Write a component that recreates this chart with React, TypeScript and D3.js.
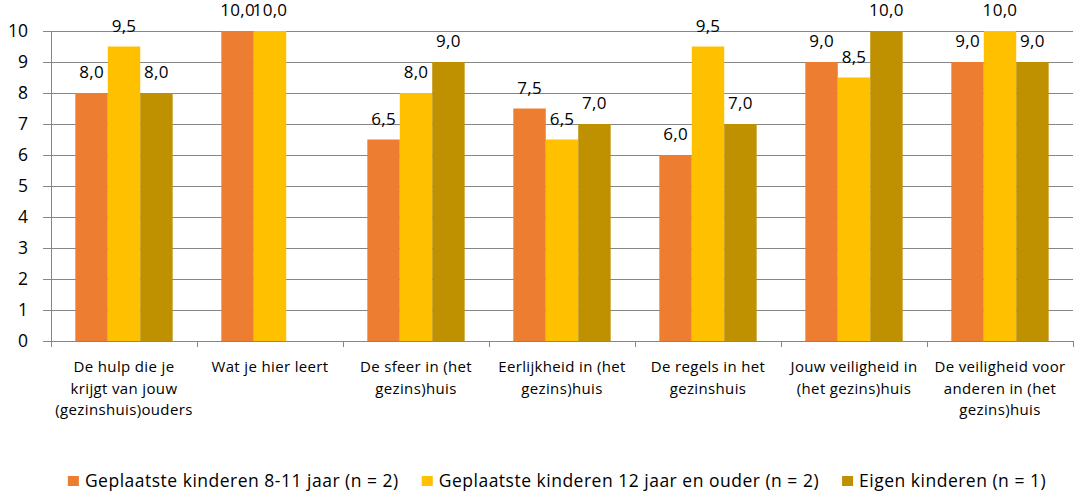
import React, { useEffect, useRef } from 'react';
import * as d3 from 'd3';

// data
const categories = [
  ['De hulp die je', 'krijgt van jouw', '(gezinshuis)ouders'],
  ['Wat je hier leert'],
  ['De sfeer in (het', 'gezins)huis'],
  ['Eerlijkheid in (het', 'gezins)huis'],
  ['De regels in het', 'gezinshuis'],
  ['Jouw veiligheid in', '(het gezins)huis'],
  ['De veiligheid voor', 'anderen in (het', 'gezins)huis'],
];
const seriesNames = [
  'Geplaatste kinderen 8-11 jaar (n = 2)',
  'Geplaatste kinderen 12 jaar en ouder (n = 2)',
  'Eigen kinderen (n = 1)',
];
const seriesColors = ['#ED7D31', '#FFC000', '#BF9000'];
const placed811 = [8.0, 10.0, 6.5, 7.5, 6.0, 9.0, 9.0];
const placed12 = [9.5, 10.0, 8.0, 6.5, 9.5, 8.5, 10.0];
const ownKids = [8.0, null, 9.0, 7.0, 7.0, 10.0, 9.0];
const yTicks = [0, 1, 2, 3, 4, 5, 6, 7, 8, 9, 10];

const FONT = '"Open Sans", sans-serif';
const GRID = '#868686';

export default function App() {
  const ref = useRef<SVGSVGElement>(null);

  useEffect(() => {
    draw();
  }, []);

  function draw() {
    const svg = d3.select(ref.current);
    svg.selectAll('*').remove();
    const width = 1074;
    const margin = { top: 31, right: 1, bottom: 150, left: 51 };
    const plotBottom = 341;

    const keys = categories.map((_, i) => String(i));
    const values = [placed811, placed12, ownKids];

    const xScale = d3.scaleBand().domain(keys).range([margin.left, width - margin.right]).paddingInner(0).paddingOuter(0);
    const inner = d3
      .scaleBand()
      .domain(seriesNames)
      .range([0, xScale.bandwidth()])
      .paddingInner(0)
      .paddingOuter(0.75);
    const yScale = d3.scaleLinear().domain([0, 10]).range([plotBottom, margin.top]);

    // gridlines
    svg
      .append('g')
      .selectAll('line')
      .data(yTicks)
      .enter()
      .append('line')
      .attr('x1', margin.left - 8)
      .attr('x2', width - margin.right)
      .attr('y1', (d) => Math.round(yScale(d)) + 0.5)
      .attr('y2', (d) => Math.round(yScale(d)) + 0.5)
      .attr('stroke', GRID)
      .attr('stroke-width', 1);

    // y axis line
    svg
      .append('line')
      .attr('x1', margin.left + 0.5)
      .attr('x2', margin.left + 0.5)
      .attr('y1', margin.top)
      .attr('y2', plotBottom)
      .attr('stroke', GRID);

    // y tick labels
    svg
      .append('g')
      .selectAll('text')
      .data(yTicks)
      .enter()
      .append('text')
      .attr('x', 28)
      .attr('y', (d) => yScale(d) + 6)
      .attr('text-anchor', 'end')
      .attr('font-family', FONT)
      .attr('font-size', 17.5)
      .attr('fill', '#000')
      .text((d) => d);

    // x ticks
    svg
      .append('g')
      .selectAll('line')
      .data(keys.concat(['end']))
      .enter()
      .append('line')
      .attr('x1', (d) => Math.round(d === 'end' ? width - margin.right : xScale(d)!) + 0.5)
      .attr('x2', (d) => Math.round(d === 'end' ? width - margin.right : xScale(d)!) + 0.5)
      .attr('y1', plotBottom)
      .attr('y2', plotBottom + 6)
      .attr('stroke', GRID);

    // bars
    const groups = svg
      .append('g')
      .selectAll('g')
      .data(seriesNames)
      .enter()
      .append('g')
      .attr('fill', (_, i) => seriesColors[i]);

    groups
      .selectAll('rect')
      .data((s, si) => values[si].map((v, ci) => ({ s, v, c: keys[ci] })))
      .enter()
      .filter((d) => d.v !== null)
      .append('rect')
      .attr('x', (d) => xScale(d.c)! + inner(d.s)!)
      .attr('y', (d) => yScale(d.v as number))
      .attr('width', inner.bandwidth())
      .attr('height', (d) => plotBottom - yScale(d.v as number));

    // data labels
    groups
      .selectAll('text')
      .data((s, si) => values[si].map((v, ci) => ({ s, v, c: keys[ci] })))
      .enter()
      .filter((d) => d.v !== null)
      .append('text')
      .attr('x', (d) => xScale(d.c)! + inner(d.s)! + inner.bandwidth() / 2)
      .attr('y', (d) => yScale(d.v as number) - 15)
      .attr('text-anchor', 'middle')
      .attr('font-family', FONT)
      .attr('font-size', 17)
      .attr('letter-spacing', 0.3)
      .attr('fill', '#000')
      .text((d) => (d.v as number).toFixed(1).replace('.', ','));

    // x axis line
    svg
      .append('line')
      .attr('x1', margin.left - 8)
      .attr('x2', width - margin.right)
      .attr('y1', plotBottom + 0.5)
      .attr('y2', plotBottom + 0.5)
      .attr('stroke', GRID);

    // category labels
    const catText = svg
      .append('g')
      .selectAll('text')
      .data(categories)
      .enter()
      .append('text')
      .attr('text-anchor', 'middle')
      .attr('font-family', FONT)
      .attr('font-size', 15)
      .attr('letter-spacing', 0.35)
      .attr('fill', '#000');
    catText
      .selectAll('tspan')
      .data((lines, i) => lines.map((l) => ({ l, c: keys[i] })))
      .enter()
      .append('tspan')
      .attr('x', (d) => xScale(d.c)! + xScale.bandwidth() / 2)
      .attr('y', (_, j) => 372 + j * 21.5)
      .text((d) => d.l);

    // legend
    const legend = svg.append('g');
    const items = legend
      .selectAll('g')
      .data(seriesNames)
      .enter()
      .append('g');
    items
      .append('rect')
      .attr('width', 11)
      .attr('height', 10)
      .attr('y', 476)
      .attr('fill', (_, i) => seriesColors[i]);
    items
      .append('text')
      .attr('x', 17)
      .attr('y', 486.5)
      .attr('font-family', FONT)
      .attr('font-size', 17.5)
      .attr('letter-spacing', 0.5)
      .attr('fill', '#000')
      .text((d) => d);
    let x = 0;
    const offsets: number[] = [];
    items.each(function () {
      offsets.push(x);
      const w = (d3.select(this).select('text').node() as SVGTextElement).getComputedTextLength();
      x += 17 + w + 23;
    });
    const total = x - 23;
    const start = 557 - total / 2;
    items.attr('transform', (_, i) => `translate(${start + offsets[i]},0)`);
  }

  return (
    <div style={{ position: 'absolute', left: 0, top: 0 }}>
      <svg ref={ref} width={1074} height={491} style={{ display: 'block', background: '#fff' }} />
    </div>
  );
}
